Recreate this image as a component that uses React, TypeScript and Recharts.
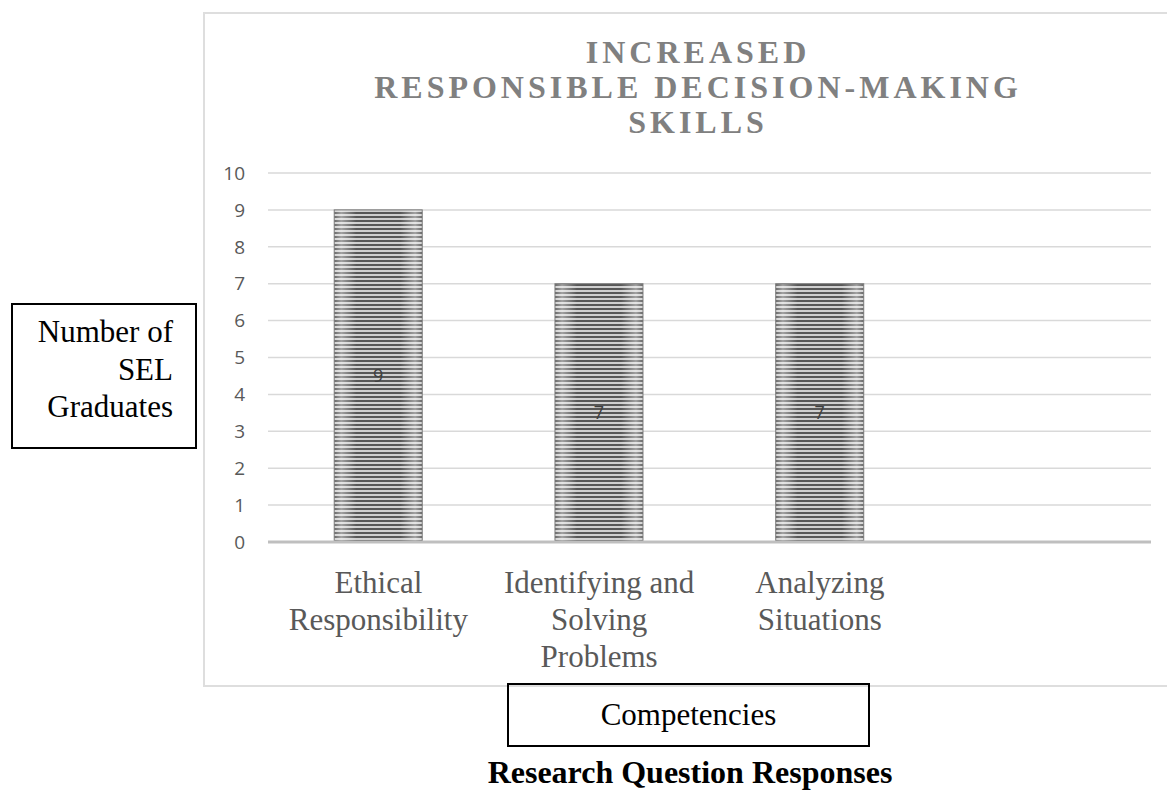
import React from 'react';
import { BarChart, Bar, XAxis, YAxis, CartesianGrid, LabelList } from 'recharts';

const CATEGORIES = ['Ethical Responsibility', 'Identifying and Solving Problems', 'Analyzing Situations', ''];
const GRADUATES = [9, 7, 7, null];
const CATEGORY_LINES = [['Ethical', 'Responsibility'], ['Identifying and', 'Solving', 'Problems'], ['Analyzing', 'Situations'], []];
const Y_TICKS = [0, 1, 2, 3, 4, 5, 6, 7, 8, 9, 10];
const TITLE_LINES = ['INCREASED', 'RESPONSIBLE DECISION-MAKING', 'SKILLS'];
const Y_LABEL_LINES = ['Number of', 'SEL', 'Graduates'];

const data = CATEGORIES.map((name, i) => ({ name, value: GRADUATES[i], lines: CATEGORY_LINES[i] }));

const serif = '"Liberation Serif", "Times New Roman", serif';
const sans = '"Open Sans", "Noto Sans", sans-serif';

const CategoryTick = (props: any) => {
  const { x, y, index } = props;
  const lines = CATEGORY_LINES[index] || [];
  return (
    <g>
      {lines.map((line, i) => (
        <text key={i} x={x} y={y + 43 + i * 37} textAnchor="middle" fill="#595959" fontSize={31} fontFamily={serif}>
          {line}
        </text>
      ))}
    </g>
  );
};

const StripedBar = (props: any) => {
  const { x, y, width, height } = props;
  if (!height || height <= 0) return null;
  return (
    <g>
      <rect x={x} y={y} width={width} height={height} fill="url(#hstripes)" />
      <rect x={x} y={y} width={width} height={height} fill="url(#edgeShade)" />
      <rect x={x} y={y} width={width} height={height} fill="none" stroke="#7a7a7a" strokeWidth={1} />
    </g>
  );
};

export default function App() {
  return (
    <div style={{ position: 'absolute', left: 0, top: 0, width: 1167, height: 794, overflow: 'hidden', background: '#fff' }}>
      {/* chart frame */}
      <div style={{ position: 'absolute', left: 203, top: 12, width: 1000, height: 671, border: '2px solid #dedede' }} />

      <div style={{ position: 'absolute', left: 0, top: 0 }}>
        <BarChart width={1167} height={794} data={data} margin={{ top: 173, right: 16, bottom: 112, left: 0 }} barCategoryGap="30%">
          <defs>
            <pattern id="hstripes" width={4} height={4} patternUnits="userSpaceOnUse">
              <rect width={4} height={4} fill="#cfcfcf" />
              <rect width={4} height={2} fill="#575757" />
            </pattern>
            <linearGradient id="edgeShade" x1="0" y1="0" x2="1" y2="0">
              <stop offset="0%" stopColor="#ffffff" stopOpacity={0.1} />
              <stop offset="8%" stopColor="#ffffff" stopOpacity={0.45} />
              <stop offset="25%" stopColor="#ffffff" stopOpacity={0} />
              <stop offset="75%" stopColor="#ffffff" stopOpacity={0} />
              <stop offset="92%" stopColor="#ffffff" stopOpacity={0.45} />
              <stop offset="100%" stopColor="#ffffff" stopOpacity={0.1} />
            </linearGradient>
          </defs>
          <CartesianGrid vertical={false} stroke="#d9d9d9" strokeWidth={1.5} />
          <XAxis
            dataKey="name"
            height={140}
            tickLine={false}
            axisLine={{ stroke: '#bfbfbf', strokeWidth: 3 }}
            tick={<CategoryTick />}
            interval={0}
          />
          <YAxis
            width={268}
            domain={[0, 10]}
            ticks={Y_TICKS}
            tickLine={false}
            axisLine={false}
            tickMargin={17}
            tick={{ fill: '#595959', fontSize: 19, fontFamily: sans }}
          />
          <Bar dataKey="value" shape={<StripedBar />} isAnimationActive={false}>
            <LabelList dataKey="value" position="center" fill="#404040" fontSize={18} fontFamily={sans} />
          </Bar>
        </BarChart>
      </div>

      {/* title */}
      <div
        style={{
          position: 'absolute',
          left: 300,
          width: 796,
          top: 35,
          textAlign: 'center',
          fontFamily: serif,
          fontWeight: 'bold',
          fontSize: 32,
          lineHeight: '35px',
          letterSpacing: 4,
          color: '#808080',
        }}
      >
        {TITLE_LINES.map((l, i) => (
          <div key={i}>{l}</div>
        ))}
      </div>

      {/* y-axis title box */}
      <div
        style={{
          position: 'absolute',
          left: 11,
          top: 303,
          width: 160,
          height: 134,
          paddingRight: 22,
          border: '2px solid #000',
          textAlign: 'right',
          fontFamily: serif,
          fontSize: 31,
          lineHeight: '37.5px',
          paddingTop: 8,
          boxSizing: 'content-box',
          color: '#000',
        }}
      >
        {Y_LABEL_LINES.map((l, i) => (
          <div key={i}>{l}</div>
        ))}
      </div>

      {/* x-axis title box */}
      <div
        style={{
          position: 'absolute',
          left: 507,
          top: 683,
          width: 359,
          height: 60,
          border: '2px solid #000',
          textAlign: 'center',
          fontFamily: serif,
          fontSize: 31,
          lineHeight: '60px',
          color: '#000',
        }}
      >
        Competencies
      </div>

      {/* caption */}
      <div
        style={{
          position: 'absolute',
          left: 390,
          width: 600,
          top: 754,
          textAlign: 'center',
          fontFamily: serif,
          fontWeight: 'bold',
          fontSize: 32,
          lineHeight: '36px',
          color: '#000',
        }}
      >
        Research Question Responses
      </div>
    </div>
  );
}
